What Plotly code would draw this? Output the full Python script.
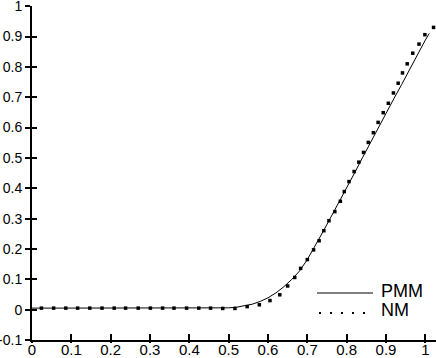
import plotly.graph_objects as go

# PMM curve (solid line)
pmm_x = [0.0, 0.1, 0.2, 0.3, 0.4, 0.45, 0.50, 0.52, 0.54, 0.56, 0.58, 0.60, 0.62, 0.64,
         0.66, 0.68, 0.70, 0.72, 0.74, 0.76, 0.78, 0.80, 0.82, 0.84, 0.86, 0.88,
         0.90, 0.92, 0.94, 0.96, 0.98, 1.00, 1.01]
pmm_y = [0.005, 0.005, 0.005, 0.005, 0.005, 0.005, 0.006, 0.008, 0.012, 0.018, 0.027, 0.039,
         0.055, 0.075, 0.099, 0.127, 0.165, 0.210, 0.257, 0.305, 0.352, 0.399, 0.450,
         0.500, 0.550, 0.598, 0.647, 0.695, 0.742, 0.792, 0.840, 0.888, 0.910]

# NM points (square markers)
nm_x = [0.024, 0.055, 0.086, 0.116, 0.147, 0.178, 0.209, 0.238, 0.270, 0.301, 0.332,
        0.361, 0.393, 0.424, 0.454, 0.485, 0.516, 0.547, 0.578, 0.605, 0.630, 0.650,
        0.668, 0.683, 0.700, 0.716, 0.730, 0.742, 0.755, 0.770, 0.784, 0.794, 0.806,
        0.819, 0.831, 0.843, 0.855, 0.868, 0.880, 0.893, 0.906, 0.919, 0.931, 0.942,
        0.954, 0.968, 0.984, 0.999, 1.021]
nm_y = [0.005, 0.005, 0.005, 0.005, 0.005, 0.005, 0.005, 0.005, 0.005, 0.005, 0.005,
        0.005, 0.005, 0.005, 0.005, 0.004, 0.004, 0.010, 0.016, 0.030, 0.049, 0.078,
        0.106, 0.136, 0.165, 0.197, 0.227, 0.260, 0.293, 0.323, 0.357, 0.389, 0.422,
        0.455, 0.486, 0.518, 0.551, 0.583, 0.617, 0.649, 0.680, 0.714, 0.746, 0.780,
        0.810, 0.845, 0.875, 0.906, 0.930]

x_ticks = [0, 0.1, 0.2, 0.3, 0.4, 0.5, 0.6, 0.7, 0.8, 0.9, 1]
x_tick_text = ["0", "0.1", "0.2", "0.3", "0.4", "0.5", "0.6", "0.7", "0.8", "0.9", "1"]
y_ticks = [-0.1, 0, 0.1, 0.2, 0.3, 0.4, 0.5, 0.6, 0.7, 0.8, 0.9, 1]
y_tick_text = ["-0.1", "0", "0.1", "0.2", "0.3", "0.4", "0.5", "0.6", "0.7", "0.8", "0.9", "1"]

W, H = 436, 358
ML, MR, MT, MB = 32, 0, 6, 18
XR = [0, 1.0272]
YR = [-0.1, 1.0005]
FONT = "Liberation Sans, Arial, sans-serif"

fig = go.Figure()
fig.add_trace(go.Scatter(x=pmm_x, y=pmm_y, mode="lines", name="PMM",
                         line=dict(color="black", width=1), showlegend=False))
fig.add_trace(go.Scatter(x=nm_x, y=nm_y, mode="markers", name="NM",
                         marker=dict(color="black", size=3.5, symbol="square"),
                         showlegend=False, cliponaxis=False))
# invisible trace to activate overlay axes (tick crossing parts)
fig.add_trace(go.Scatter(x=[None], y=[None], xaxis="x2", yaxis="y2",
                         mode="markers", showlegend=False, hoverinfo="skip"))

pw = W - ML - MR
ph = H - MT - MB


def px2paper_x(px):
    return (px - ML) / pw


def px2paper_y(py):
    return (H - MB - py) / ph


shapes = [
    dict(type="line", xref="paper", yref="paper",
         x0=px2paper_x(317), x1=px2paper_x(373), y0=px2paper_y(293), y1=px2paper_y(293),
         line=dict(color="black", width=1)),
]
for dx in [320, 331, 342, 353, 364]:
    shapes.append(dict(type="rect", xref="paper", yref="paper",
                       x0=px2paper_x(dx - 1), x1=px2paper_x(dx + 1),
                       y0=px2paper_y(314), y1=px2paper_y(312),
                       fillcolor="black", line=dict(width=0)))

annotations = [
    dict(text="PMM", xref="paper", yref="paper", x=px2paper_x(380), y=px2paper_y(291),
         xanchor="left", yanchor="middle", showarrow=False, borderpad=0,
         font=dict(family=FONT, size=18, color="black")),
    dict(text="NM", xref="paper", yref="paper", x=px2paper_x(380), y=px2paper_y(310),
         xanchor="left", yanchor="middle", showarrow=False, borderpad=0,
         font=dict(family=FONT, size=18, color="black")),
]

fig.update_layout(
    template="none",
    width=W, height=H,
    margin=dict(l=ML, r=MR, t=MT, b=MB, autoexpand=False),
    paper_bgcolor="white", plot_bgcolor="white",
    showlegend=False,
    xaxis=dict(range=XR, tickvals=x_ticks, ticktext=x_tick_text, automargin=False,
               showgrid=False, zeroline=False, showline=True, linecolor="black",
               linewidth=2, ticks="inside", ticklen=6, tickwidth=1.5, tickcolor="black",
               ticklabeloverflow="allow", ticklabelstandoff=-5,
               tickfont=dict(family=FONT, size=15, color="black"), anchor="y"),
    yaxis=dict(range=YR, tickvals=y_ticks, ticktext=y_tick_text, automargin=False,
               showgrid=False, zeroline=False, showline=True, linecolor="black",
               linewidth=2, ticks="outside", ticklen=5, tickwidth=1.5, tickcolor="black",
               ticklabeloverflow="allow",
               tickfont=dict(family=FONT, size=14, color="black"), anchor="x"),
    xaxis2=dict(range=XR, tickvals=x_ticks, overlaying="x", anchor="y", side="bottom",
                automargin=False,
                showgrid=False, zeroline=False, showline=False, ticks="outside",
                ticklen=2, tickwidth=1.5, tickcolor="black", showticklabels=False),
    yaxis2=dict(range=YR, tickvals=y_ticks, overlaying="y", anchor="x", side="left",
                automargin=False,
                showgrid=False, zeroline=False, showline=False, ticks="inside",
                ticklen=5, tickwidth=1.5, tickcolor="black", showticklabels=False),
    shapes=shapes,
    annotations=annotations,
)

fig.write_html("out.html", config={"displayModeBar": False},
               post_script="document.body.style.margin='0';document.body.style.padding='0';")
